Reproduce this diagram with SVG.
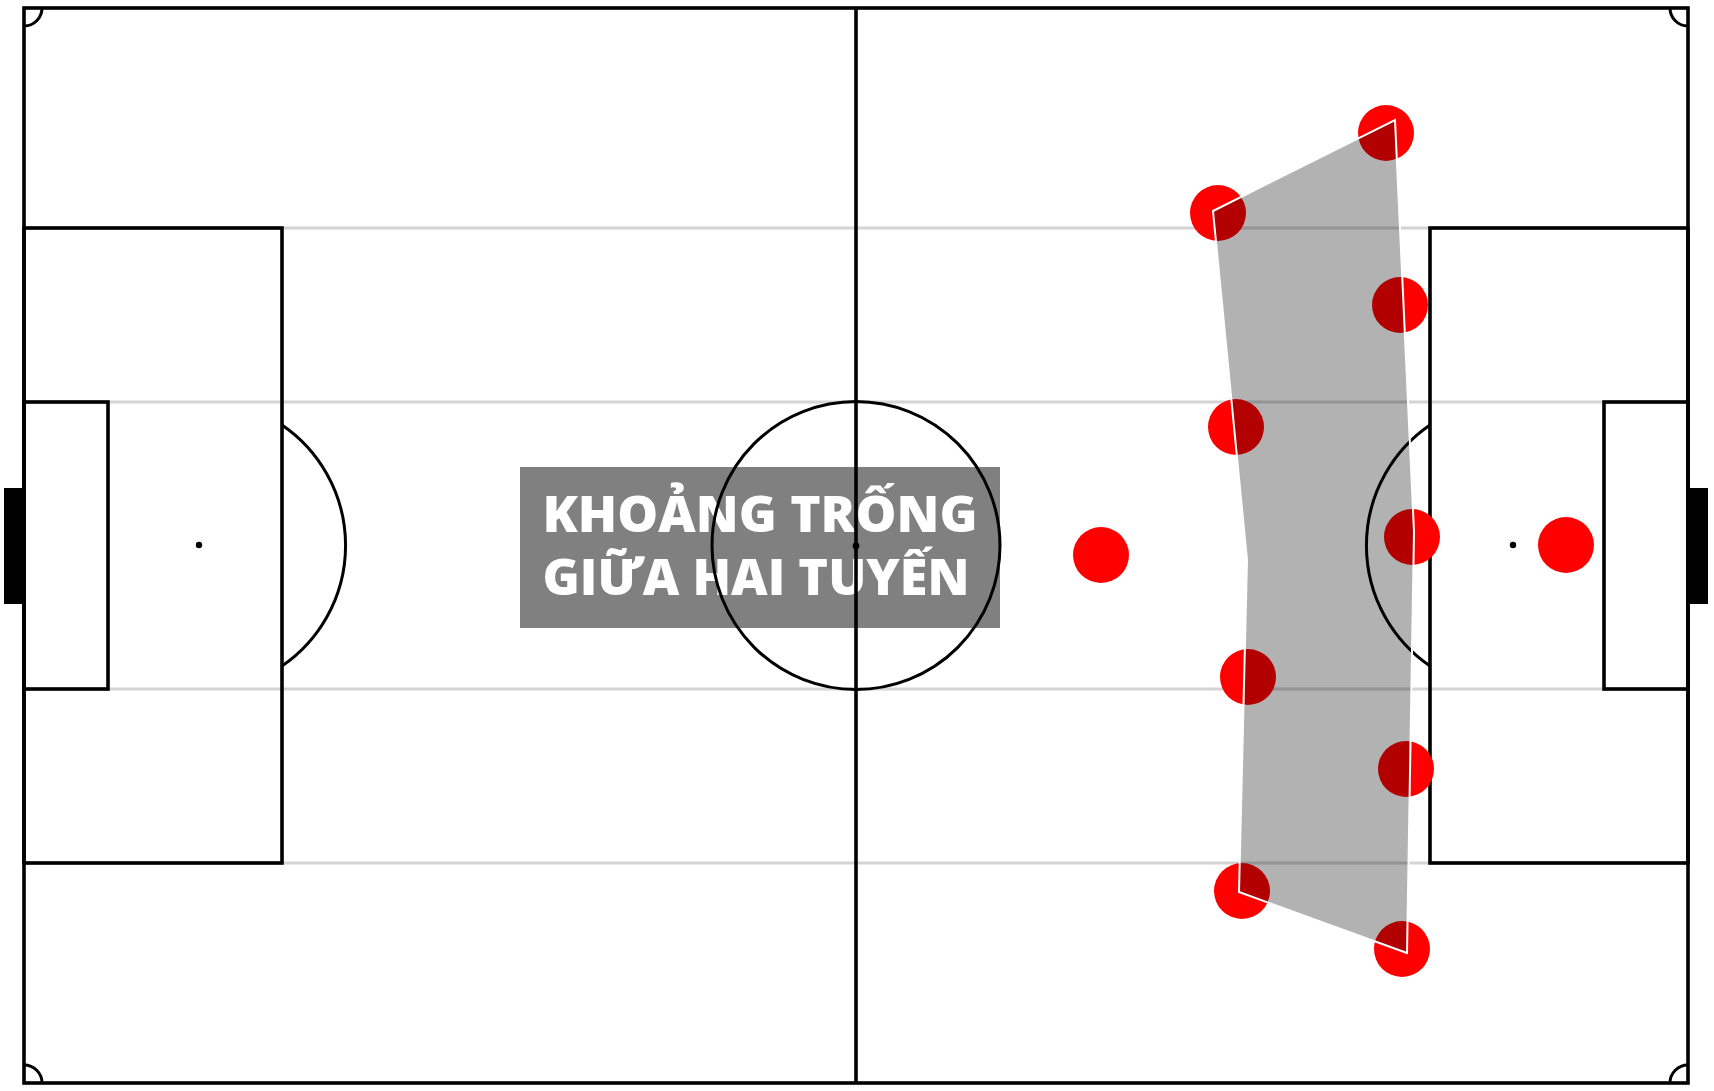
<svg xmlns="http://www.w3.org/2000/svg" width="1714" height="1091" viewBox="0 0 1714 1091">
<style>
.ln{fill:none;stroke:#000;stroke-width:3.6}
.arc{fill:none;stroke:#000;stroke-width:3}
.gl{stroke:#d4d4d4;stroke-width:3}
.spot{fill:#000}
.pl{fill:#ff0000}
.lbl{font-family:"Open Sans","Liberation Sans",sans-serif;font-weight:800;font-size:50px;fill:#fff}
</style>
<rect x="0" y="0" width="1714" height="1091" fill="#fff"/>
<g id="label">
<rect x="520" y="467" width="480" height="161" fill="#808080"/>
<text class="lbl" x="760" y="532" text-anchor="middle" textLength="435" lengthAdjust="spacingAndGlyphs">KHOẢNG TRỐNG</text>
<text class="lbl" x="756" y="595" text-anchor="middle" textLength="427" lengthAdjust="spacingAndGlyphs">GIỮA HAI TUYẾN</text>
</g>
<g id="pitch">
<g id="guides">
<line class="gl" x1="24" y1="228" x2="1688" y2="228"/>
<line class="gl" x1="24" y1="402" x2="1688" y2="402"/>
<line class="gl" x1="24" y1="689" x2="1688" y2="689"/>
<line class="gl" x1="24" y1="863" x2="1688" y2="863"/>
</g>
<rect class="ln" x="24" y="8" width="1664" height="1075"/>
<line class="ln" x1="856" y1="8" x2="856" y2="1083"/>
<circle class="arc" cx="856" cy="545.5" r="144"/>
<circle class="spot" cx="856" cy="546" r="3.4"/>
<rect class="ln" x="24" y="228" width="258" height="635"/>
<rect class="ln" x="1430" y="228" width="258" height="635"/>
<rect class="ln" x="24" y="402" width="84" height="287"/>
<rect class="ln" x="1604" y="402" width="84" height="287"/>
<circle class="spot" cx="199" cy="545" r="3.2"/>
<circle class="spot" cx="1513" cy="545" r="3.2"/>
<path class="arc" d="M282 425 A146 146 0 0 1 282 666"/>
<path class="arc" d="M1430 425 A146 146 0 0 0 1430 666"/>
<path class="arc" d="M24 26 A18 18 0 0 0 42 8"/>
<path class="arc" d="M1670 8 A18 18 0 0 0 1688 26"/>
<path class="arc" d="M24 1065 A18 18 0 0 1 42 1083"/>
<path class="arc" d="M1670 1083 A18 18 0 0 1 1688 1065"/>
<rect x="4" y="488" width="19" height="116" fill="#000"/>
<rect x="1690" y="488" width="18" height="116" fill="#000"/>
</g>
<g id="players">
<g id="p1"><circle class="pl" cx="1386" cy="133" r="28"/></g>
<g id="p2"><circle class="pl" cx="1218" cy="213" r="28"/></g>
<g id="p3"><circle class="pl" cx="1400" cy="305" r="28"/></g>
<g id="p4"><circle class="pl" cx="1236" cy="427" r="28"/></g>
<g id="p5"><circle class="pl" cx="1412" cy="537" r="28"/></g>
<g id="p6"><circle class="pl" cx="1248" cy="677" r="28"/></g>
<g id="p7"><circle class="pl" cx="1406" cy="769" r="28"/></g>
<g id="p8"><circle class="pl" cx="1242" cy="891" r="28"/></g>
<g id="p9"><circle class="pl" cx="1402" cy="949" r="28"/></g>
<g id="p10"><circle class="pl" cx="1101" cy="555" r="28"/></g>
<g id="p11"><circle class="pl" cx="1566" cy="545" r="28"/></g>
</g>
<g id="connectors">
<polygon points="1213,211 1395,120 1414,532 1407,953 1239,892 1247,560" fill="#000" fill-opacity="0.3" stroke="#fff" stroke-width="2"/>
</g>
</svg>
